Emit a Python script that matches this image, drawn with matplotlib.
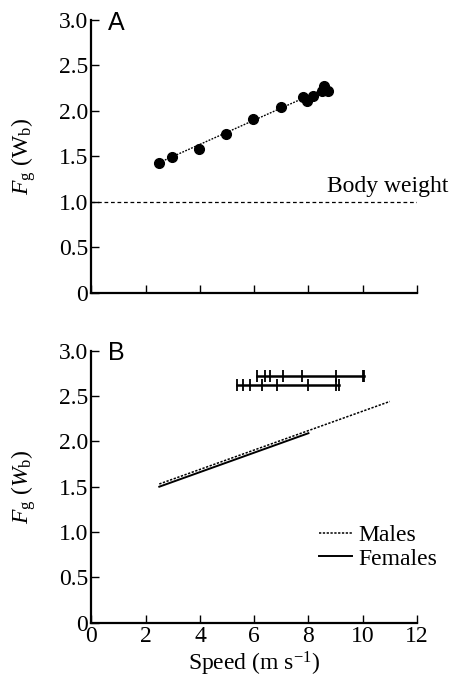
import numpy as np
import matplotlib
matplotlib.use("Agg")
import matplotlib.pyplot as plt

# panel A: measured points and fitted line
speed_a = [2.49, 2.98, 3.97, 4.97, 5.97, 6.99, 7.80, 7.95, 8.17, 8.49, 8.58, 8.72]
fg_a = [1.43, 1.49, 1.58, 1.75, 1.91, 2.04, 2.15, 2.11, 2.16, 2.22, 2.27, 2.22]
fit_a_x = [2.49, 8.72]
fit_a_y = [1.43, 2.26]
body_weight = 1.0

# panel B: regression lines
males_x = [2.5, 11.0]
males_y = [1.53, 2.44]
females_x = [2.5, 8.0]
females_y = [1.50, 2.09]

# panel B: speed ranges
upper_speeds = [6.12, 6.41, 6.60, 7.08, 7.76, 9.01, 10.0, 10.05]
upper_level = 2.72
lower_speeds = [5.36, 5.60, 5.86, 6.27, 6.83, 8.0, 9.01, 9.11]
lower_level = 2.62

xticks = [0, 2, 4, 6, 8, 10, 12]
yticks = [0, 0.5, 1.0, 1.5, 2.0, 2.5, 3.0]
ytick_labels = ["0", "0.5", "1.0", "1.5", "2.0", "2.5", "3.0"]

FS = 17

plt.rcParams['font.family'] = ['Liberation Serif', 'DejaVu Serif']
plt.rcParams['mathtext.fontset'] = 'custom'
plt.rcParams['mathtext.rm'] = 'Liberation Serif'
plt.rcParams['mathtext.it'] = 'Liberation Serif:italic'
plt.rcParams['font.size'] = FS


def style_axes(ax, show_xlabels):
    ax.spines['top'].set_visible(False)
    ax.spines['right'].set_visible(False)
    for s in ['left', 'bottom']:
        ax.spines[s].set_linewidth(1.6)
    ax.set_xlim(0, 12)
    ax.set_ylim(0, 3)
    ax.set_xticks(xticks)
    ax.set_yticks(yticks)
    ax.set_yticklabels(ytick_labels)
    ax.tick_params(direction='in', length=5.5, width=1, pad=2.5, labelsize=FS)
    if not show_xlabels:
        ax.set_xticklabels([])


fig = plt.figure(figsize=(4.52, 6.84), dpi=100)
ax1 = fig.add_axes([0.2024, 0.572, 0.720, 0.399])
ax2 = fig.add_axes([0.2024, 0.0896, 0.720, 0.3977])

# panel A
style_axes(ax1, False)
ax1.plot(fit_a_x, fit_a_y, color='k', lw=1.0, linestyle=(0, (1.3, 1.0)))
ax1.plot(speed_a, fg_a, 'o', color='k', ms=7, linestyle='none')
ax1.axhline(body_weight, color='k', lw=0.9, linestyle=(0, (3, 2.2)))
ax1.text(8.68, 1.11, "Body weight", fontsize=FS, ha='left', va='baseline', clip_on=False)
ax1.text(0.62, 2.96, "A", family='Liberation Sans', fontsize=18, ha='left', va='center')
ax1.set_ylabel(r"$F_\mathrm{g}$ ($\mathrm{W}_\mathrm{b}$)", fontsize=FS)
ax1.yaxis.set_label_coords(-0.164, 0.5)

# panel B
style_axes(ax2, True)
ax2.plot(males_x, males_y, color='k', lw=1.1, linestyle=(0, (1.5, 1.0)), label='Males')
ax2.plot(females_x, females_y, color='k', lw=1.4, linestyle='-', label='Females')
for speeds, level in [(upper_speeds, upper_level), (lower_speeds, lower_level)]:
    ax2.plot([min(speeds), max(speeds)], [level, level], color='k', lw=1.8)
    ax2.plot(speeds, [level] * len(speeds), '|', color='k', ms=9, mew=1.3, linestyle='none')
ax2.text(0.62, 2.97, "B", family='Liberation Sans', fontsize=18, ha='left', va='center')
ax2.set_ylabel(r"$F_\mathrm{g}$ ($W_\mathrm{b}$)", fontsize=FS)
ax2.yaxis.set_label_coords(-0.164, 0.5)
ax2.set_xlabel(r"Speed (m s$^{-1}$)", fontsize=FS, labelpad=2)
ax2.legend(loc='lower right', bbox_to_anchor=(1.09, 0.16), frameon=False,
           handlelength=1.4, handletextpad=0.25, labelspacing=0.1, fontsize=FS,
           borderaxespad=0)

fig.savefig("out.png", dpi=100)
